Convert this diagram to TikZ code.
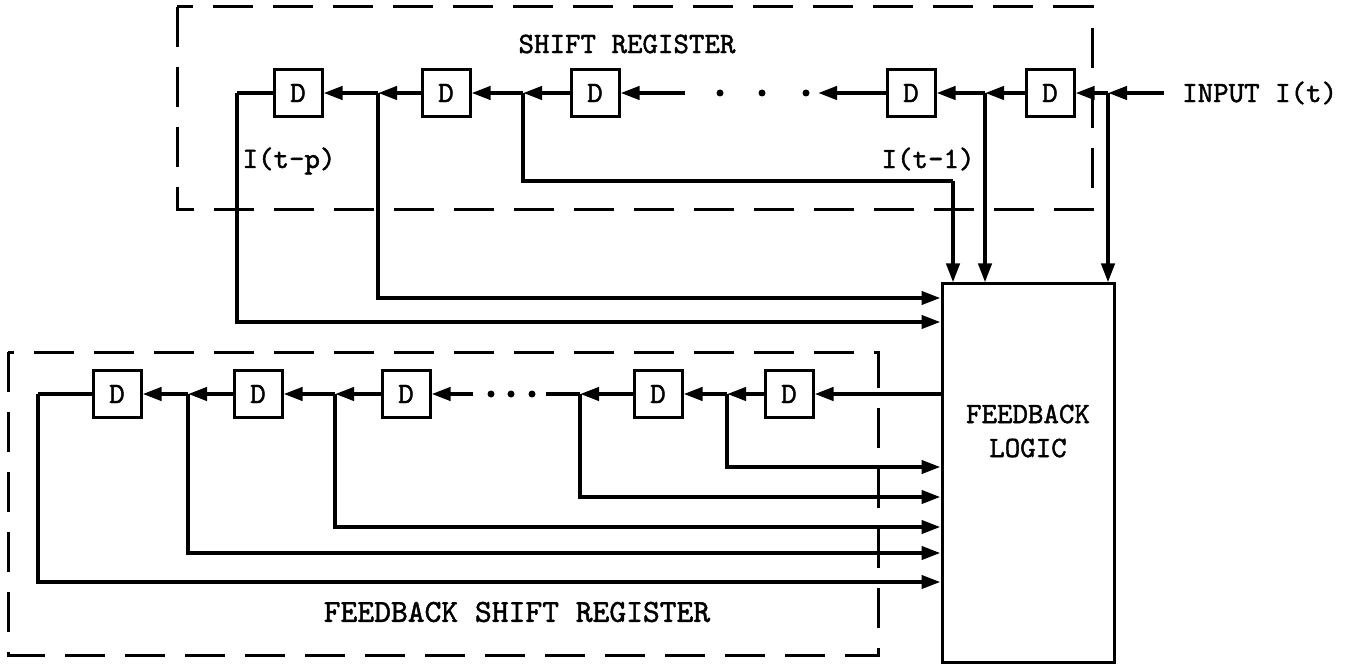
\documentclass[tikz,border=0pt]{standalone}
\usepackage{fontspec}
\setmonofont{lmmono10-regular.otf}[FakeBold=1.5]
\usetikzlibrary{arrows.meta}
\newcommand{\labfont}{\ttfamily\fontsize{29.5}{32}\selectfont}
\newcommand{\bigfont}{\ttfamily\fontsize{32}{34}\selectfont}
\begin{document}
\begin{tikzpicture}[x=1pt,y=-1pt,
  wire/.style={line width=4pt},
  arr/.style={line width=4pt,-{Triangle[length=19pt,width=13pt]}},
  dbox/.style={draw,line width=3pt,minimum width=48pt,minimum height=47pt,inner sep=0pt,font=\labfont},
  frame/.style={line width=3pt,dash pattern=on 40pt off 20pt},
  lbl/.style={font=\labfont,inner sep=0pt},
  dot/.style={circle,fill,inner sep=0pt,minimum size=7pt},
]
\useasboundingbox (0,0) rectangle (1354,668);

% dashed frames
\draw[frame] (177,7) rectangle (1092,210);
\draw[frame] (8,352) rectangle (878,655);

% logic box
\node[draw,line width=3pt,minimum width=172pt,minimum height=378pt,inner sep=0pt] (lg) at (1028,473) {};
\node[lbl,align=center] (lgt) at (1028,431) {FEEDBACK\\[2pt]LOGIC};

% ---------- top shift register ----------
\node[dbox] (t1) at (298,93) {D};
\node[dbox] (t2) at (446,93) {D};
\node[dbox] (t3) at (595,93) {D};
\node[dbox] (t4) at (911,93) {D};
\node[dbox] (t5) at (1050,93) {D};

\coordinate (jin) at (1108,93);
\coordinate (j45) at (985,93);
\coordinate (j23) at (523,93);
\coordinate (j12) at (378,93);
\coordinate (c0) at (237,93);
\coordinate (t4e) at (818,93);
\coordinate (t3s) at (685,93);
\coordinate (k23) at (953,181);
\coordinate (inS) at (1164,93);

\node[dot] (td1) at (806,93) {};
\node[dot] (td2) at (762,93) {};
\node[dot] (td3) at (720,93) {};

\node[lbl] (srt) at (627,44) {SHIFT REGISTER};
\node[lbl,anchor=west] (inp) at (1182,93) {INPUT I(t)};
\node[lbl] (itp) at (289,161) {I(t-p)};
\node[lbl] (it1) at (928,159) {I(t-1)};

\draw[arr] (inS) -- (jin);
\draw[arr] (jin) -- (t5.east);
\draw[arr] (t5.west) -- (j45);
\draw[arr] (j45) -- (t4.east);
\draw[arr] (t4.west) -- (t4e);
\draw[arr] (t3s) -- (t3.east);
\draw[arr] (t3.west) -- (j23);
\draw[arr] (j23) -- (t2.east);
\draw[arr] (t2.west) -- (j12);
\draw[arr] (j12) -- (t1.east);
\draw[wire] (t1.west) -- (c0);

\draw[arr] (c0) |- (lg.west |- 0,322);
\draw[arr] (j12) |- (lg.west |- 0,298);
\draw[wire] (j23) |- (k23);
\draw[arr] (k23) -- (k23 |- lg.north);
\draw[arr] (j45) -- (j45 |- lg.north);
\draw[arr] (jin) -- (jin |- lg.north);

% ---------- feedback shift register ----------
\node[dbox] (b1) at (117,394) {D};
\node[dbox] (b2) at (258,394) {D};
\node[dbox] (b3) at (406,394) {D};
\node[dbox] (b4) at (658,394) {D};
\node[dbox] (b5) at (789,394) {D};

\coordinate (bj45) at (727,394);
\coordinate (bj34) at (580,394);
\coordinate (bj23) at (335,394);
\coordinate (bj12) at (188,394);
\coordinate (bc0) at (38,394);
\coordinate (b4e) at (546,394);
\coordinate (b3s) at (473,394);

\node[dot] (bd1) at (532,394) {};
\node[dot] (bd2) at (511,394) {};
\node[dot] (bd3) at (491,394) {};

\node[font=\bigfont,inner sep=0pt] (fsr) at (517,612) {FEEDBACK SHIFT REGISTER};

\draw[arr] (lg.west |- b5) -- (b5.east);
\draw[arr] (b5.west) -- (bj45);
\draw[arr] (bj45) -- (b4.east);
\draw[arr] (b4.west) -- (bj34);
\draw[wire] (bj34) -- (b4e);
\draw[arr] (b3s) -- (b3.east);
\draw[arr] (b3.west) -- (bj23);
\draw[arr] (bj23) -- (b2.east);
\draw[arr] (b2.west) -- (bj12);
\draw[arr] (bj12) -- (b1.east);
\draw[wire] (b1.west) -- (bc0);

\draw[arr] (bj45) |- (lg.west |- 0,467);
\draw[arr] (bj34) |- (lg.west |- 0,497);
\draw[arr] (bj23) |- (lg.west |- 0,527);
\draw[arr] (bj12) |- (lg.west |- 0,553);
\draw[arr] (bc0) |- (lg.west |- 0,582);
\end{tikzpicture}
\end{document}
